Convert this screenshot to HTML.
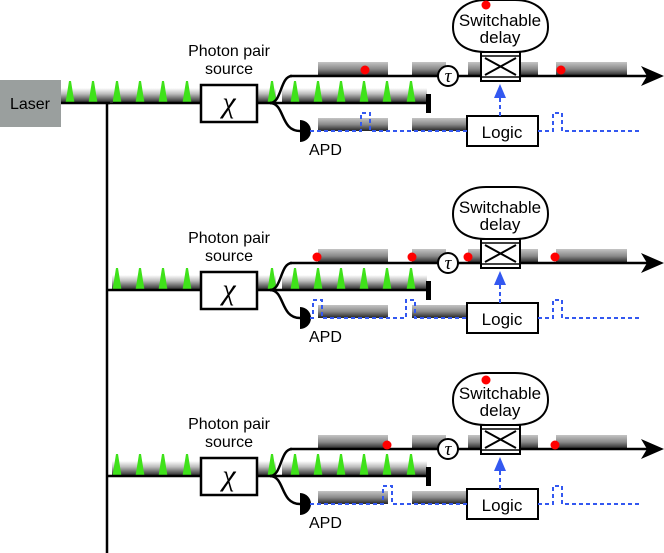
<!DOCTYPE html>
<html><head><meta charset="utf-8"><style>html,body{margin:0;padding:0;background:#fff}svg{display:block}</style></head><body>
<svg width="664" height="553" viewBox="0 0 664 553" xmlns="http://www.w3.org/2000/svg" font-family="Liberation Sans, sans-serif">
<defs>
<linearGradient id="g" x1="0" y1="0" x2="0" y2="1"><stop offset="0" stop-color="#c4c4c4"/><stop offset="0.5" stop-color="#8a8a8a"/><stop offset="1" stop-color="#222"/></linearGradient>
<linearGradient id="gp" x1="0" y1="0" x2="0" y2="1"><stop offset="0" stop-color="#fff"/><stop offset="0.4" stop-color="#bbb"/><stop offset="1" stop-color="#222"/></linearGradient>
<g id="pulse"><path d="M-4.5,0 L-1,-22 L1,-22 L4.5,0 Z" fill="#3fe21a"/></g>
<g id="row">
  <rect x="112" y="88" width="88" height="15" fill="url(#gp)"/>
  <rect x="258" y="88" width="18" height="15" fill="url(#gp)"/>
  <rect x="282" y="88" width="145" height="15" fill="url(#gp)"/>
  <g transform="translate(0,103)">
    <use href="#pulse" x="117"/><use href="#pulse" x="140"/><use href="#pulse" x="163"/><use href="#pulse" x="187"/>
    <use href="#pulse" x="272"/><use href="#pulse" x="295"/><use href="#pulse" x="318"/><use href="#pulse" x="341"/><use href="#pulse" x="364"/><use href="#pulse" x="387"/><use href="#pulse" x="411"/>
  </g>
  <line x1="107" y1="103" x2="200" y2="103" stroke="#000" stroke-width="2.5"/>
  <text x="229" y="56" font-size="16" text-anchor="middle">Photon pair</text>
  <text x="229" y="74" font-size="16" text-anchor="middle">source</text>
  <rect x="201" y="85" width="56" height="37" fill="#fff" stroke="#000" stroke-width="2.5"/>
  <text x="229" y="112" font-size="30" font-family="Liberation Serif, serif" font-style="italic" text-anchor="middle">χ</text>
  <line x1="257" y1="103" x2="427" y2="103" stroke="#000" stroke-width="2.5"/>
  <rect x="426" y="94" width="5" height="19" fill="#000"/>
  <path d="M270,103 C282,103 280,76 292,76" fill="none" stroke="#000" stroke-width="2.5"/>
  <path d="M270,103 C285,103 280,131 300,131" fill="none" stroke="#000" stroke-width="2.5"/>
  <rect x="318" y="62" width="70" height="14" fill="url(#g)"/>
  <rect x="412" y="62" width="34" height="14" fill="url(#g)"/>
  <rect x="468" y="62" width="70" height="14" fill="url(#g)"/>
  <rect x="556" y="62" width="71" height="14" fill="url(#g)"/>
  <line x1="290" y1="76" x2="650" y2="76" stroke="#000" stroke-width="2.5"/>
  <path d="M664,76 L641,66 L647,76 L641,86 Z" fill="#000"/>
  <circle cx="448" cy="76" r="10" fill="#fff" stroke="#000" stroke-width="2"/>
  <text x="448" y="82" font-size="19" font-family="Liberation Serif, serif" font-style="italic" text-anchor="middle">τ</text>
  <path d="M486,52 C468,52 453,45 453,27 C453,8 470,0 486,0 L515,0 C532,0 548,8 548,27 C548,45 532,52 515,52" fill="#fff" stroke="#000" stroke-width="2"/>
  <text x="500" y="26" font-size="17" text-anchor="middle">Switchable</text>
  <text x="500" y="43" font-size="17" text-anchor="middle">delay</text>
  <rect x="481" y="52" width="39" height="29" fill="#fff" stroke="#000" stroke-width="2"/>
  <line x1="481" y1="56" x2="520" y2="56" stroke="#000" stroke-width="1.5"/>
  <line x1="481" y1="77" x2="520" y2="77" stroke="#000" stroke-width="1.5"/>
  <path d="M485,58 L516,75 M516,58 L485,75" stroke="#000" stroke-width="2"/>
  <rect x="318" y="118" width="70" height="13" fill="url(#g)"/>
  <rect x="412" y="118" width="55" height="13" fill="url(#g)"/>
  <path d="M300,120 A11,11 0 0 1 300,142 Z" fill="#000"/>
  <text x="309" y="155" font-size="16">APD</text>
  <rect x="467" y="116" width="71" height="30" fill="#fff" stroke="#000" stroke-width="2"/>
  <text x="502" y="138" font-size="17" text-anchor="middle">Logic</text>
  <path d="M538,131 L553,131 L553,113 L562,113 L562,131 L641,131" fill="none" stroke="#3358f0" stroke-width="2" stroke-dasharray="4,3"/>
  <line x1="500" y1="116" x2="500" y2="96" stroke="#3358f0" stroke-width="2" stroke-dasharray="4,3"/>
  <path d="M500,84 L494,98 L506,98 Z" fill="#3358f0"/>
</g>
</defs>
<line x1="107" y1="103" x2="107" y2="553" stroke="#000" stroke-width="2.5"/>
<use href="#row"/>
<rect x="61" y="88" width="52" height="15" fill="url(#gp)"/>
<g transform="translate(0,103)"><use href="#pulse" x="70"/><use href="#pulse" x="93"/></g>
<line x1="61" y1="103" x2="110" y2="103" stroke="#000" stroke-width="2.5"/>
<rect x="0" y="80" width="61" height="47" fill="#9a9f9e"/>
<text x="30" y="109" font-size="16" text-anchor="middle">Laser</text>
<g fill="#f00"><circle cx="365" cy="70" r="4.5"/><circle cx="561" cy="70" r="4.5"/><circle cx="486" cy="5" r="4.5"/></g>
<path d="M310,131 L361,131 L361,113 L370,113 L370,131 L467,131" fill="none" stroke="#3358f0" stroke-width="2" stroke-dasharray="4,3"/>
<g transform="translate(0,187)">
<use href="#row"/>
<g fill="#f00"><circle cx="317" cy="70" r="4.5"/><circle cx="412" cy="70" r="4.5"/><circle cx="468" cy="70" r="4.5"/><circle cx="555" cy="70" r="4.5"/></g>
<path d="M310,131 L313,131 L313,113 L322,113 L322,131 L406,131 L406,113 L415,113 L415,131 L467,131" fill="none" stroke="#3358f0" stroke-width="2" stroke-dasharray="4,3"/>
</g>
<g transform="translate(0,373)">
<use href="#row"/>
<g fill="#f00"><circle cx="387" cy="72" r="4.5"/><circle cx="555" cy="72" r="4.5"/><circle cx="486" cy="7" r="4.5"/></g>
<path d="M310,131 L383,131 L383,113 L392,113 L392,131 L467,131" fill="none" stroke="#3358f0" stroke-width="2" stroke-dasharray="4,3"/>
</g>
</svg>
</body></html>
